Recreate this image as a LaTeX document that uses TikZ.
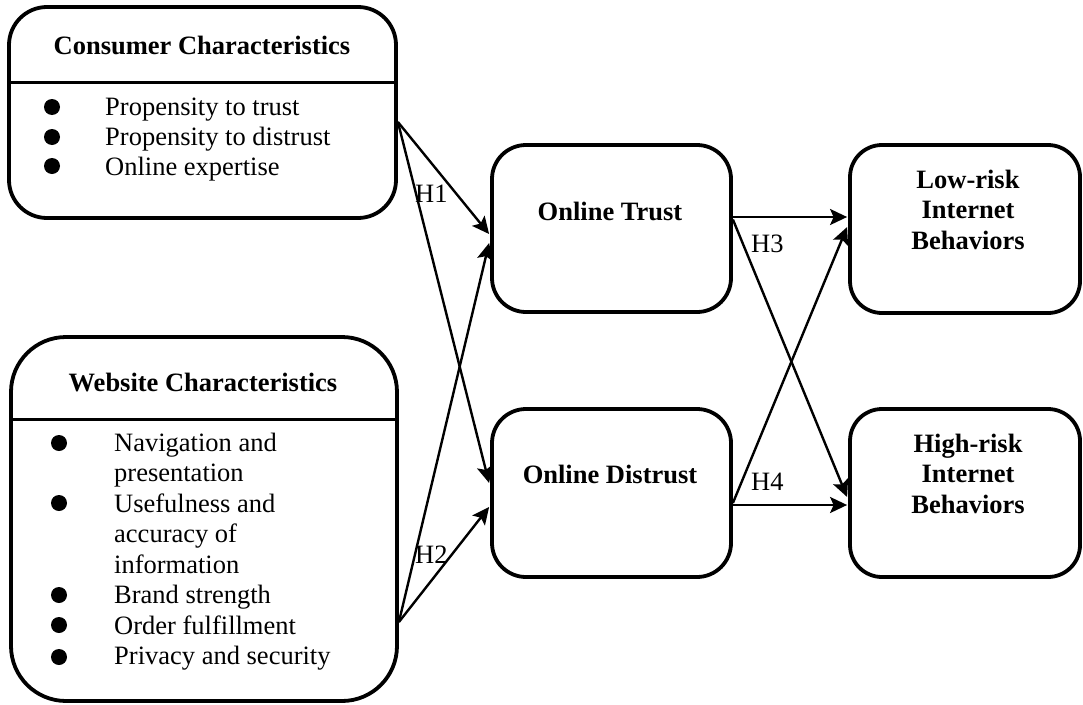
\documentclass[tikz,border=0pt]{standalone}
\usepackage{fontspec}
\setmainfont{Liberation Serif}
\usetikzlibrary{arrows.meta,calc}
\begin{document}
\begin{tikzpicture}[x=1pt,y=-1pt,
  box/.style={draw, line width=3.8pt, rounded corners=#1, inner sep=0pt},
  divider/.style={line width=3pt},
  txt/.style={font=\fontsize{26.5pt}{30pt}\selectfont, inner sep=0pt, anchor=base},
  ttl/.style={font=\fontsize{26.5pt}{30pt}\selectfont\bfseries, inner sep=0pt, anchor=base},
  item/.style={txt, anchor=base west},
  bul/.style={circle, fill, inner sep=0pt, minimum size=16pt},
  conn/.style={line width=2.4pt, -{Stealth[length=17pt,width=16pt,inset=3.5pt]}}
]
\useasboundingbox (0,0) rectangle (1083,704);

% boxes
\node[box=38pt, minimum width=387pt, minimum height=211pt] (cons) at (202.5,112.5) {};
\node[box=55pt, minimum width=386pt, minimum height=364pt] (web) at (204,519) {};
\node[box=34pt, minimum width=239pt, minimum height=167pt] (trust) at (611.5,228.5) {};
\node[box=34pt, minimum width=239pt, minimum height=168pt] (dist) at (611.5,493) {};
\node[box=32pt, minimum width=230pt, minimum height=168pt] (low) at (965,229) {};
\node[box=32pt, minimum width=230pt, minimum height=168pt] (high) at (965,493) {};

% dividers
\coordinate (cdiv) at (0,82);
\coordinate (wdiv) at (0,419);
\draw[divider] (cons.west |- cdiv) -- (cons.east |- cdiv);
\draw[divider] (web.west |- wdiv) -- (web.east |- wdiv);

% consumer text
\node[ttl] (ctitle) at (202,54) {Consumer Characteristics};
\node[bul] (cb1) at (52,107) {};
\node[bul] (cb2) at (52,137) {};
\node[bul] (cb3) at (52,166) {};
\node[item] (ci1) at (105,115) {Propensity to trust};
\node[item] (ci2) at (105,145) {Propensity to distrust};
\node[item] (ci3) at (105,175) {Online expertise};

% website text
\node[ttl] (wtitle) at (203,391) {Website Characteristics};
\node[bul] (wb1) at (59,443) {};
\node[bul] (wb2) at (59,503) {};
\node[bul] (wb3) at (59,595) {};
\node[bul] (wb4) at (59,625) {};
\node[bul] (wb5) at (59,657) {};
\node[item] (wi1) at (114,451) {Navigation and};
\node[item] (wi2) at (114,481.5) {presentation};
\node[item] (wi3) at (114,512) {Usefulness and};
\node[item] (wi4) at (114,542.5) {accuracy of};
\node[item] (wi5) at (114,573) {information};
\node[item] (wi6) at (114,603.5) {Brand strength};
\node[item] (wi7) at (114,634) {Order fulfillment};
\node[item] (wi8) at (114,664.5) {Privacy and security};

% middle / right texts
\node[ttl] (ttext) at (610,220) {Online Trust};
\node[ttl] (dtext) at (610,483) {Online Distrust};
\node[ttl] (l1) at (968,188) {Low-risk};
\node[ttl] (l2) at (968,218.5) {Internet};
\node[ttl] (l3) at (968,249) {Behaviors};
\node[ttl] (h1t) at (968,452) {High-risk};
\node[ttl] (h2t) at (968,482.5) {Internet};
\node[ttl] (h3t) at (968,513) {Behaviors};

% connectors
\draw[conn] ($(cons.east)+(0,9.5)$) -- ($(trust.west)+(-1,5.5)$);
\draw[conn] ($(cons.east)+(0,9.5)$) -- ($(dist.west)+(-1,-10)$);
\draw[conn] ($(web.east)+(0,103)$) -- ($(trust.west)+(-1,14.5)$);
\draw[conn] ($(web.east)+(0,103)$) -- ($(dist.west)+(-1,14)$);
\draw[conn] ($(trust.east)+(0,-11.5)$) -- ($(low.west)+(-1,-12)$);
\draw[conn] ($(trust.east)+(0,-9)$) -- ($(high.west)+(-1,4)$);
\draw[conn] ($(dist.east)+(0,10)$) -- ($(low.west)+(-1,-2)$);
\draw[conn] ($(dist.east)+(0,12)$) -- ($(high.west)+(-1,12)$);

% hypothesis labels
\node[item] (H1) at (415,202) {H1};
\node[item] (H2) at (415,563) {H2};
\node[item] (H3) at (751,252) {H3};
\node[item] (H4) at (751,490) {H4};
\end{tikzpicture}
\end{document}
